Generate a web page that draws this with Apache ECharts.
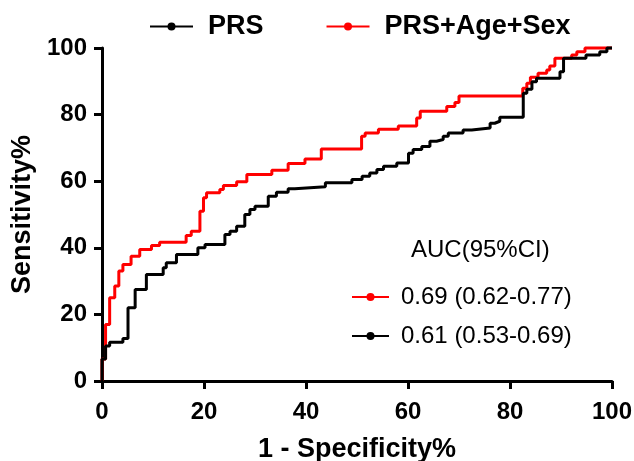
<!DOCTYPE html>
<html>
<head>
<meta charset="utf-8">
<title>ROC</title>
<script src="https://cdn.jsdelivr.net/npm/echarts@6/dist/echarts.min.js"></script>
<style type="text/css">
	html, body { margin: 0; padding: 0; background: #fff; }
	div#roc { width: 634px; height: 461px; }
</style>
</head>
<body>
<div id="roc"></div>
<script type="text/javascript">
// 1 - specificity (x) and sensitivity (y), step points
var prsX = [0, 0, 0.7, 1.5, 4.1, 5.1, 6.5, 8.7, 12, 12.6, 14.6, 18.8, 20.2, 24.1, 25.1, 26.4, 28, 29, 30, 32.6, 34.2, 36.5, 37.8, 43.8, 49, 51, 52.5, 53.9, 55.2, 57.8, 60.1, 61, 62.7, 64.3, 65.6, 66.9, 67.9, 70.8, 72.5, 76.1, 77, 78, 82.6, 83.3, 84.3, 85.2, 89.8, 90.5, 94.9, 97.6, 99, 100];
var prsY = [0, 6.6, 10.5, 11.6, 12.8, 22, 27.5, 32, 34, 35.5, 38, 40, 41, 44, 45, 46.5, 50, 51.5, 52.5, 55.5, 56.7, 57.7, 58.3, 59.5, 60.5, 61.5, 62.5, 63.5, 64.5, 65.5, 68.4, 69.5, 70.4, 72, 72.5, 73.5, 74.5, 75.4, 76, 77.4, 78, 79.2, 86.4, 87.6, 89.9, 90.9, 92.9, 96.9, 97.9, 98.9, 100, 100];
var fullX = [0, 0, 0.7, 1.5, 2.5, 3.3, 4.1, 5.7, 7.4, 9.7, 11.3, 16.5, 17.5, 19.2, 19.9, 20.5, 23.1, 23.8, 26.4, 28.4, 33.3, 36.5, 39.8, 43, 50.9, 51.6, 54.2, 58.1, 61.7, 62.4, 67.6, 69.2, 70, 82.5, 83.3, 84, 85.5, 87.2, 87.8, 88.8, 92.1, 93.1, 94.7, 100];
var fullY = [0, 6.6, 17, 25, 28.5, 33, 35, 37.5, 39.5, 40.7, 41.7, 43.7, 45, 51, 55, 56.5, 57.5, 58.7, 59.8, 62, 63.3, 65.3, 66.7, 69.7, 73.5, 74.5, 75.6, 76.6, 79, 81, 82.4, 83.6, 85.6, 87.9, 89.4, 91.2, 92.4, 93.4, 94.6, 96.9, 97.9, 98.9, 100, 100];

var seriesNames = ['PRS', 'PRS+Age+Sex'];
var seriesColors = ['#000000', '#ff0000'];
var aucNames = ['PRS+Age+Sex', 'PRS'];
var aucTexts = ['0.69 (0.62-0.77)', '0.61 (0.53-0.69)'];
var axisTicks = [0, 20, 40, 60, 80, 100];

function pairs(xs, ys) {
	var out = [];
	for (var i = 0; i < xs.length; i++) out.push([xs[i], ys[i]]);
	return out;
}

var FONT = 'Liberation Sans';
var myChart = echarts.init(document.getElementById('roc'));

var axisCommon = {
	type: 'value',
	min: axisTicks[0],
	max: axisTicks[axisTicks.length - 1],
	interval: axisTicks[1] - axisTicks[0],
	nameLocation: 'middle',
	axisLine: { show: true, lineStyle: { color: '#000', width: 3 } },
	axisTick: { show: true, length: 8, lineStyle: { color: '#000', width: 3 } },
	splitLine: { show: false },
	nameTextStyle: { color: '#000', fontFamily: FONT, fontWeight: 'bold', fontSize: 27 }
};
var labelStyle = { color: '#000', fontFamily: FONT, fontWeight: 'bold', fontSize: 24 };

var option = {
	animation: false,
	backgroundColor: '#fff',
	grid: { left: 102, right: 22, top: 48, bottom: 80, outerBoundsMode: 'none' },
	title: {
		text: 'AUC(95%CI)',
		left: 411,
		top: 238,
		padding: 0,
		textStyle: { color: '#000', fontFamily: FONT, fontWeight: 'normal', fontSize: 24 }
	},
	legend: [{
		data: seriesNames,
		left: 149,
		top: 13,
		padding: 0,
		itemWidth: 43,
		itemHeight: 10,
		itemGap: 62,
		itemStyle: { borderWidth: 0 },
		textStyle: { color: '#000', fontFamily: FONT, fontWeight: 'bold', fontSize: 27, padding: [0, 0, 0, 10] }
	}, {
		data: aucNames,
		orient: 'vertical',
		left: 351,
		top: 285,
		padding: 0,
		itemWidth: 37,
		itemHeight: 10,
		itemGap: 15,
		itemStyle: { borderWidth: 0 },
		formatter: function (name) {
			return aucTexts[aucNames.indexOf(name)];
		},
		textStyle: { color: '#000', fontFamily: FONT, fontSize: 24, padding: [0, 0, 0, 7] }
	}],
	xAxis: Object.assign({}, axisCommon, {
		name: '1 - Specificity%',
		nameGap: 55,
		axisLabel: Object.assign({ margin: 19 }, labelStyle)
	}),
	yAxis: Object.assign({}, axisCommon, {
		name: 'Sensitivity%',
		nameGap: 66,
		axisLabel: Object.assign({ margin: 15 }, labelStyle)
	}),
	series: [{
		name: seriesNames[0],
		type: 'line',
		step: 'end',
		data: pairs(prsX, prsY),
		showSymbol: false,
		symbol: 'circle',
		clip: false,
		color: seriesColors[0],
		lineStyle: { color: seriesColors[0], width: 3 },
		z: 3
	}, {
		name: seriesNames[1],
		type: 'line',
		step: 'end',
		data: pairs(fullX, fullY),
		showSymbol: false,
		symbol: 'circle',
		clip: false,
		color: seriesColors[1],
		lineStyle: { color: seriesColors[1], width: 3 },
		z: 2
	}]
};

myChart.setOption(option);
</script>
</body>
</html>
